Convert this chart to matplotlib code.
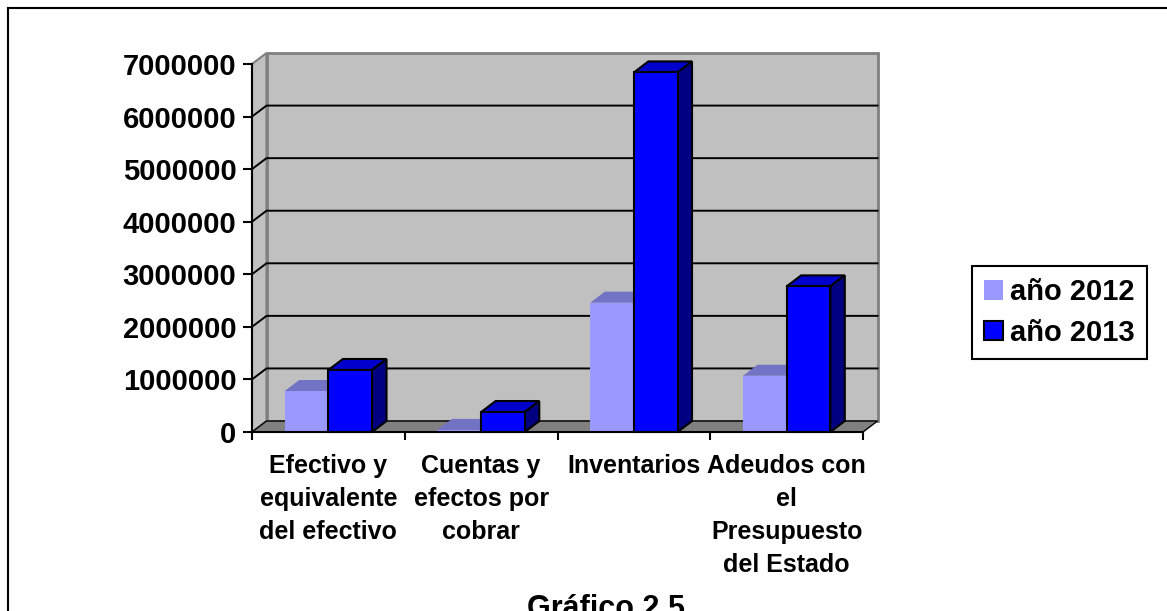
import numpy as np
import matplotlib
matplotlib.use("Agg")
from matplotlib import pyplot as plt
from matplotlib.patches import Polygon, Patch
from matplotlib.lines import Line2D

# data
categories = ["Efectivo y\nequivalente\ndel efectivo", "Cuentas y\nefectos por\ncobrar",
              "Inventarios", "Adeudos con\nel\nPresupuesto\ndel Estado"]
series_names = ["año 2012", "año 2013"]
vals_2012 = [780000, 40000, 2460000, 1070000]
vals_2013 = [1180000, 380000, 6840000, 2770000]
yticks = [0, 1000000, 2000000, 3000000, 4000000, 5000000, 6000000, 7000000]
ytick_labels = [str(v) for v in yticks]

plt.rcParams['font.family'] = ['Liberation Sans', 'DejaVu Sans']
plt.rcParams['font.weight'] = 'bold'
FS = 21      # y ticks, legend
FS_CAT = 18  # category labels
FS_TTL = 22

fig = plt.figure(figsize=(11.67, 6.11), dpi=100)
fig.patch.set_facecolor("white")
ax = fig.add_axes([252/1167, 1-432/611, (863-252)/1167, (432-64)/611])
ax.set_facecolor("none")
ax.set_xlim(0, 4)
ax.set_ylim(0, 7000000)

n = len(categories)
ymax = yticks[-1]
dx = 0.095          # depth offset, category units
dy = 0.209e6        # depth offset, value units
w = 1/3.5
gap = 0.75*w

# walls and floor
side = Polygon([(0, 0), (dx, dy), (dx, ymax+dy), (0, ymax)], closed=True,
               facecolor="#C0C0C0", edgecolor="#808080", lw=1.5, zorder=0.5, clip_on=False)
ax.add_patch(side)
back = Polygon([(dx, dy), (n+dx, dy), (n+dx, ymax+dy), (dx, ymax+dy)], closed=True,
               facecolor="#C0C0C0", edgecolor="#808080", lw=2, zorder=0.5, clip_on=False)
ax.add_patch(back)
for v in yticks[1:-1]:
    ax.plot([0, dx, n+dx], [v, v+dy, v+dy], color="black", lw=1.4, zorder=0.8, clip_on=False)
floor = Polygon([(0, 0), (n, 0), (n+dx, dy), (dx, dy)], closed=True,
                facecolor="#808080", edgecolor="black", lw=1, zorder=0.9, clip_on=False)
ax.add_patch(floor)

styles = [
    dict(front="#9999FF", top="#7373C6", side="#4C4C99", edge="none"),
    dict(front="#0000FF", top="#0000CC", side="#000080", edge="black"),
]
for i in range(n):
    for s, vals in enumerate([vals_2012, vals_2013]):
        st = styles[s]
        x0 = i + gap + s*w
        v = vals[i]
        z = 2 + i*0.1 + s*0.05
        ax.bar(x0, v, width=w, align="edge", color=st["front"], edgecolor=st["edge"],
               lw=1.5, zorder=z, clip_on=False)
        ax.add_patch(Polygon([(x0, v), (x0+w, v), (x0+w+dx, v+dy), (x0+dx, v+dy)], closed=True,
                             facecolor=st["top"], edgecolor=st["edge"], lw=1.5, zorder=z-0.01,
                             clip_on=False))
        ax.add_patch(Polygon([(x0+w, 0), (x0+w+dx, dy), (x0+w+dx, v+dy), (x0+w, v)], closed=True,
                             facecolor=st["side"], edgecolor=st["edge"], lw=1.5, zorder=z-0.01,
                             clip_on=False))

# axes
for sp in ["top", "right"]:
    ax.spines[sp].set_visible(False)
for sp in ["left", "bottom"]:
    ax.spines[sp].set_linewidth(1.5)
    ax.spines[sp].set_zorder(5)
ax.set_yticks(yticks)
ax.set_yticklabels(ytick_labels, fontsize=FS, fontweight="bold")
ax.tick_params(axis="y", direction="out", length=6.5, width=1.5, pad=4.8)
ax.set_xticks(range(n+1))
ax.set_xticklabels([""]*(n+1))
ax.tick_params(axis="x", which="major", direction="out", length=5.8, width=1.5)
ax.set_xticks([i+0.5 for i in range(n)], minor=True)
ax.set_xticklabels(categories, minor=True, fontsize=FS_CAT, fontweight="bold", linespacing=1.48)
ax.tick_params(axis="x", which="minor", length=0, pad=15.5)

handles = [Patch(facecolor=styles[0]["front"], edgecolor="none", label=series_names[0]),
           Patch(facecolor=styles[1]["front"], edgecolor="black", lw=1.5, label=series_names[1])]
leg = fig.legend(handles=handles, loc="center left", bbox_to_anchor=(972/1167, 1-312.5/611),
                 borderaxespad=0, fancybox=False, framealpha=1, edgecolor="black",
                 prop=dict(size=FS, weight="bold"), handlelength=0.65, handleheight=0.65,
                 handletextpad=0.25, labelspacing=0.42, borderpad=0.42)
leg.get_frame().set_linewidth(1.5)

fig.text(606/1167, 1-617/611, "Gráfico 2.5", ha="center", va="baseline",
         fontsize=FS_TTL, fontweight="bold")

# outer frame of the picture
fig.add_artist(Line2D([8/1167, 1], [1-8/611, 1-8/611], color="black", lw=1.5))
fig.add_artist(Line2D([8/1167, 8/1167], [0, 1-8/611], color="black", lw=1.5))

fig.savefig("out.png", dpi=100)
